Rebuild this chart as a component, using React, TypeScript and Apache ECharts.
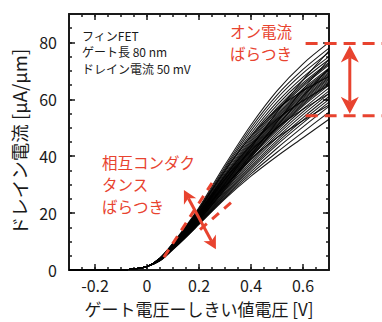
import React, { useEffect, useRef } from "react";
import * as echarts from "echarts";

// ---- data ----
const SUB_X = [-0.3, -0.2, -0.1, -0.05, 0];
const SUB_Y = [0, 0.02, 0.1, 0.35, 1.2];
const ON_X = [0.05, 0.1, 0.15, 0.2, 0.3, 0.4, 0.5, 0.6, 0.7];
const CURVES: number[][] = [
  [4.3, 9.5, 15.5, 22.0, 37.0, 51.0, 63.0, 72.5, 80.0],
  [4.2, 9.3, 15.2, 21.6, 36.2, 50.0, 61.5, 70.5, 78.0],
  [4.2, 9.2, 15.0, 21.3, 35.6, 49.0, 60.3, 69.2, 76.5],
  [4.1, 9.1, 14.8, 21.0, 35.0, 48.0, 59.0, 67.8, 75.0],
  [4.1, 9.0, 14.6, 20.7, 34.4, 47.2, 58.0, 66.8, 74.0],
  [4.0, 8.9, 14.4, 20.4, 33.8, 46.4, 57.0, 65.8, 73.0],
  [4.0, 8.9, 14.3, 20.2, 33.4, 45.8, 56.4, 65.2, 72.5],
  [4.0, 8.8, 14.2, 20.0, 33.0, 45.2, 55.8, 64.6, 72.0],
  [3.9, 8.7, 14.0, 19.8, 32.6, 44.6, 55.0, 63.7, 71.0],
  [3.9, 8.7, 13.9, 19.6, 32.2, 44.0, 54.4, 63.1, 70.5],
  [3.9, 8.6, 13.8, 19.5, 32.0, 43.6, 53.9, 62.6, 70.0],
  [3.9, 8.6, 13.7, 19.3, 31.7, 43.2, 53.4, 62.1, 69.5],
  [3.8, 8.5, 13.6, 19.2, 31.4, 42.8, 52.9, 61.6, 69.0],
  [3.8, 8.5, 13.5, 19.0, 31.1, 42.4, 52.4, 61.1, 68.5],
  [3.8, 8.4, 13.4, 18.9, 30.8, 42.0, 52.0, 60.6, 68.0],
  [3.8, 8.4, 13.3, 18.7, 30.5, 41.6, 51.5, 60.1, 67.5],
  [3.7, 8.3, 13.2, 18.6, 30.2, 41.2, 51.0, 59.6, 67.0],
  [3.7, 8.3, 13.1, 18.4, 29.9, 40.8, 50.5, 59.1, 66.5],
  [3.7, 8.2, 13.0, 18.3, 29.6, 40.4, 50.0, 58.6, 66.0],
  [3.7, 8.2, 12.9, 18.1, 29.3, 40.0, 49.5, 58.1, 65.5],
  [3.6, 8.1, 12.8, 18.0, 29.0, 39.6, 49.0, 57.6, 65.0],
  [3.6, 8.0, 12.6, 17.7, 28.5, 38.8, 48.2, 56.6, 64.0],
  [3.6, 7.9, 12.5, 17.5, 28.0, 38.0, 47.4, 55.6, 63.0],
  [3.5, 7.8, 12.3, 17.2, 27.5, 37.3, 46.5, 54.6, 62.0],
  [3.5, 7.7, 12.2, 17.0, 27.0, 36.6, 45.6, 53.6, 61.0],
  [3.4, 7.6, 12.0, 16.8, 26.6, 36.0, 44.8, 52.7, 60.0],
  [3.4, 7.5, 11.9, 16.6, 26.2, 35.4, 44.0, 51.7, 59.0],
  [3.3, 7.4, 11.8, 16.4, 25.8, 34.6, 42.8, 50.3, 57.5],
  [3.3, 7.3, 11.6, 16.2, 25.4, 33.8, 41.4, 48.5, 55.5],
  [3.2, 7.2, 11.5, 16.0, 25.0, 33.0, 40.0, 46.5, 53.0],
  [4.2, 9.3, 15.0, 21.2, 35.0, 47.0, 56.5, 63.0, 68.0],
  [3.6, 8.0, 12.6, 17.6, 28.8, 40.5, 52.0, 63.5, 74.0],
  [4.0, 8.9, 14.4, 20.3, 33.0, 44.0, 53.0, 59.5, 65.0],
  [3.5, 7.8, 12.4, 17.4, 28.2, 39.5, 50.5, 61.0, 71.0],
  [4.1, 9.0, 14.5, 20.2, 32.0, 42.0, 50.0, 56.5, 62.0],
  [3.7, 8.2, 13.0, 18.4, 30.5, 43.0, 55.5, 66.8, 77.0],
  [3.8, 8.4, 13.4, 18.7, 29.5, 39.0, 46.5, 52.5, 58.0],
];
const X_LABELS = [-0.2, 0, 0.2, 0.4, 0.6];
const Y_LABELS = [0, 20, 40, 60, 80];

// annotation anchors in data units
const ON_HI = 79.6;
const ON_LO = 54.2;
const ON_LINE_X0 = 0.61;
const ON_ARROW_X = 0.78;
const GM_LINE_A: [number, number][] = [[0.065, 4.5], [0.25, 30.6]];
const GM_LINE_B: [number, number][] = [[0.204, 14.2], [0.327, 24.0]];
const GM_ARROW: [number, number][] = [[0.142, 28.1], [0.265, 7.3]];

const FONT = "'Noto Sans CJK JP', 'Noto Sans', sans-serif";
const INK = "#1a1a1a";
const RED = "#e8432f";

function arrowHead(tip: number[], from: number[], len: number, half: number) {
  const dx = tip[0] - from[0];
  const dy = tip[1] - from[1];
  const L = Math.hypot(dx, dy);
  const ux = dx / L, uy = dy / L;
  const nx = -uy, ny = ux;
  const bx = tip[0] - ux * len, by = tip[1] - uy * len;
  const notch = [tip[0] - ux * len * 0.72, tip[1] - uy * len * 0.72];
  return {
    points: [tip, [bx + nx * half, by + ny * half], notch, [bx - nx * half, by - ny * half]],
    notch,
  };
}

function doubleArrow(a: number[], b: number[], len: number, half: number, w: number) {
  const h1 = arrowHead(a, b, len, half);
  const h2 = arrowHead(b, a, len, half);
  return [
    { type: "line", z: 100, shape: { x1: h1.notch[0], y1: h1.notch[1], x2: h2.notch[0], y2: h2.notch[1] }, style: { stroke: RED, lineWidth: w } },
    { type: "polygon", z: 100, shape: { points: h1.points }, style: { fill: RED } },
    { type: "polygon", z: 100, shape: { points: h2.points }, style: { fill: RED } },
  ];
}

function makeAxes(dim: "x" | "y") {
  const isX = dim === "x";
  const base = isX ? { min: -0.3, max: 0.7, interval: 0.05 } : { min: 0, max: 90, interval: 5 };
  const labels = isX ? X_LABELS : Y_LABELS;
  const positions = isX ? ["bottom", "top"] : ["left", "right"];
  const axes: any[] = [];
  positions.forEach((pos, i) => {
    axes.push({
      type: "value",
      position: pos,
      ...base,
      axisLine: { show: true, onZero: false, lineStyle: { color: INK, width: 2 } },
      axisTick: { show: true, inside: true, length: 3, lineStyle: { color: INK, width: 1.5 } },
      axisLabel: i === 0
        ? { show: true, customValues: labels, color: INK, fontSize: 16, fontFamily: FONT, margin: isX ? 7 : 12 }
        : { show: false },
      splitLine: { show: false },
      ...(i === 0
        ? isX
          ? { name: "ゲート電圧ーしきい値電圧 [V]", nameLocation: "middle", nameGap: 30, nameTextStyle: { color: INK, fontSize: 17, fontFamily: FONT } }
          : { name: "ドレイン電流 [μA/μm]", nameLocation: "middle", nameGap: 41, nameRotate: 90, nameTextStyle: { color: INK, fontSize: 18.5, fontFamily: FONT } }
        : {}),
    });
    axes.push({
      type: "value",
      position: pos,
      min: base.min,
      max: base.max,
      axisLine: { show: false, onZero: false },
      axisTick: { show: true, inside: true, length: 6, customValues: labels, lineStyle: { color: INK, width: 1.5 } },
      axisLabel: { show: false },
      splitLine: { show: false },
    });
  });
  return axes;
}

export default function App() {
  const ref = useRef<HTMLDivElement>(null);
  useEffect(() => {
    if (!ref.current) return;
    const chart = echarts.init(ref.current, undefined, { renderer: "svg" });
    const series = CURVES.map((c, i) => ({
      type: "line",
      name: "c" + i,
      xAxisIndex: 0,
      yAxisIndex: 0,
      showSymbol: false,
      smooth: 0.3,
      silent: true,
      lineStyle: { color: "#000", width: 1.05, opacity: 0.9 },
      data: SUB_X.concat(ON_X).map((x, j) => [x, j < SUB_X.length ? SUB_Y[j] : c[j - SUB_X.length]]),
    }));
    chart.setOption({
      animation: false,
      backgroundColor: "#ffffff",
      grid: { left: 69, right: 53, top: 14, bottom: 49 },
      xAxis: makeAxes("x"),
      yAxis: makeAxes("y"),
      series,
    });

    const px = (p: [number, number]) => chart.convertToPixel({ xAxisIndex: 0, yAxisIndex: 0 }, p) as number[];
    const W = 382;
    const hi = px([ON_LINE_X0, ON_HI]);
    const lo = px([ON_LINE_X0, ON_LO]);
    const arTop = px([ON_ARROW_X, ON_HI]);
    const arBot = px([ON_ARROW_X, ON_LO]);
    const la0 = px(GM_LINE_A[0]), la1 = px(GM_LINE_A[1]);
    const lb0 = px(GM_LINE_B[0]), lb1 = px(GM_LINE_B[1]);
    const ga0 = px(GM_ARROW[0]), ga1 = px(GM_ARROW[1]);
    const dash = { stroke: RED, lineWidth: 3, lineDash: [12, 7] };
    const dash2 = { stroke: RED, lineWidth: 3, lineDash: [9, 7] };
    const txt = (x: number, y: number, text: string, size: number, fill: string, lh: number) => ({
      type: "text", z: 100, x, y,
      style: { text, fontSize: size, lineHeight: lh, fill, fontFamily: FONT, align: "left", verticalAlign: "top" },
    });
    chart.setOption({
      graphic: [
        { type: "line", z: 100, shape: { x1: hi[0], y1: hi[1], x2: W, y2: hi[1] }, style: dash },
        { type: "line", z: 100, shape: { x1: lo[0], y1: lo[1], x2: W, y2: lo[1] }, style: dash },
        ...doubleArrow([arTop[0], arTop[1] + 2], [arBot[0], arBot[1] - 2], 17, 9, 3),
        { type: "line", z: 100, shape: { x1: la0[0], y1: la0[1], x2: la1[0], y2: la1[1] }, style: dash2 },
        { type: "line", z: 100, shape: { x1: lb0[0], y1: lb0[1], x2: lb1[0], y2: lb1[1] }, style: dash2 },
        ...doubleArrow(ga0, ga1, 13, 7, 3),
        txt(82, 27, "フィンFET\nゲート長 80 nm\nドレイン電流 50 mV", 12, INK, 16.5),
        txt(230, 19.5, "オン電流\nばらつき", 15.5, RED, 22),
        txt(102, 151, "相互コンダク\nタンス\nばらつき", 15.5, RED, 22),
      ],
    });
    return () => chart.dispose();
  }, []);
  return <div ref={ref} style={{ position: "absolute", left: 0, top: 0, width: 382, height: 322 }} />;
}
